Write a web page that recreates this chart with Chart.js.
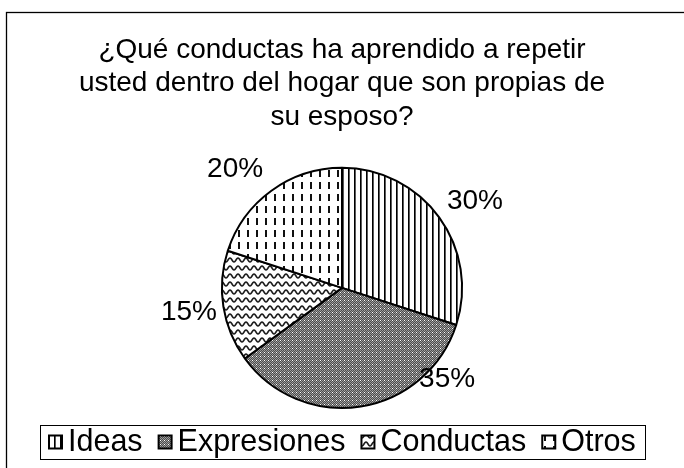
<!DOCTYPE html>
<html>
<head>
<meta charset="utf-8">
<script src="https://cdn.jsdelivr.net/npm/chart.js@4/dist/chart.umd.min.js"></script>
<style>
html,body{margin:0;padding:0;background:#fff;}
canvas{display:block;}
</style>
</head>
<body>
<canvas id="c" width="684" height="468"></canvas>
<script>
const titleLines = ['¿Qué conductas ha aprendido a repetir', 'usted dentro del hogar que son propias de', 'su esposo?'];
const categories = ['Ideas', 'Expresiones', 'Conductas', 'Otros'];
const values = [30, 35, 15, 20];
const valueLabels = ['30%', '35%', '15%', '20%'];

// label placement tweaks (style only)
const labelAngleShift = [3, -40, 0, -6];
const labelRadiusFactor = [1.32, 1.16, 1.29, 1.33];

const FONT = "'Liberation Sans', Arial, sans-serif";

function makePattern(w, h, draw) {
  const cv = document.createElement('canvas');
  cv.width = w; cv.height = h;
  const g = cv.getContext('2d');
  g.fillStyle = '#fff';
  g.fillRect(0, 0, w, h);
  draw(g, w, h);
  return document.createElement('canvas').getContext('2d').createPattern(cv, 'repeat');
}

const patIdeas = makePattern(6, 6, (g) => {
  g.fillStyle = '#000'; g.fillRect(0, 0, 1, 6);
  g.fillStyle = '#5a5a5a'; g.fillRect(1, 0, 1, 6);
});
const patExpr = makePattern(4, 4, (g) => {
  for (let x = 0; x < 4; x++) for (let y = 0; y < 4; y++) {
    g.fillStyle = (x + y) % 2 ? '#4c4c4c' : '#9c9c9c';
    g.fillRect(x, y, 1, 1);
  }
  g.fillStyle = '#fff'; g.fillRect(0, 0, 1, 1);
});
const patCond = makePattern(8, 8, (g) => {
  g.strokeStyle = '#1e1e1e'; g.lineWidth = 1.6;
  g.beginPath();
  for (let x = -1; x <= 9; x += 0.5) {
    const y = 4 + 2 * Math.sin(2 * Math.PI * x / 8);
    if (x === -1) g.moveTo(x, y); else g.lineTo(x, y);
  }
  g.stroke();
});
const patOtros = makePattern(9, 12, (g) => {
  g.fillStyle = '#111'; g.fillRect(4, 2, 2, 7);
});
const patterns = [patIdeas, patExpr, patCond, patOtros];

const framePlugin = {
  id: 'frame',
  beforeDraw(chart) {
    const ctx = chart.ctx;
    ctx.save();
    ctx.strokeStyle = '#000';
    ctx.lineWidth = 1.3;
    ctx.strokeRect(6.5, 12.5, 720, 520);
    ctx.restore();
  }
};

// Legend drawn in a boxed row under the pie (reserved via layout padding)
const boxedLegendPlugin = {
  id: 'boxedLegend',
  afterDraw(chart) {
    const ctx = chart.ctx;
    const ds = chart.data.datasets[0];
    const labels = chart.data.labels;
    const fontSize = 30.5, icon = 13, iconGap = 6, itemGap = 16, margin = 9;
    ctx.save();
    ctx.font = fontSize + 'px ' + FONT;
    const widths = labels.map(t => ctx.measureText(t).width);
    let total = margin * 2 + (labels.length - 1) * itemGap;
    widths.forEach(w => { total += icon + iconGap + w; });
    const cy = chart.chartArea.bottom + 33;
    let x = Math.round((chart.width - total) / 2);
    ctx.strokeStyle = '#000';
    ctx.lineWidth = 1;
    ctx.strokeRect(x + 0.5, Math.round(cy - 17) + 0.5, Math.round(total), 34);
    x += margin;
    ctx.textBaseline = 'middle';
    ctx.textAlign = 'left';
    labels.forEach((t, i) => {
      ctx.fillStyle = ds.backgroundColor[i];
      ctx.fillRect(x, cy - icon / 2, icon, icon);
      ctx.strokeStyle = '#000';
      ctx.lineWidth = 2;
      ctx.strokeRect(x, cy - icon / 2, icon, icon);
      x += icon + iconGap;
      ctx.fillStyle = '#000';
      ctx.fillText(t, x, cy + 1);
      x += widths[i] + itemGap;
    });
    ctx.restore();
  }
};

const pctLabelPlugin = {
  id: 'pctLabels',
  afterDatasetsDraw(chart) {
    const ctx = chart.ctx;
    const meta = chart.getDatasetMeta(0);
    ctx.save();
    ctx.fillStyle = '#000';
    ctx.font = '28px ' + FONT;
    ctx.textAlign = 'center';
    ctx.textBaseline = 'middle';
    meta.data.forEach((arc, i) => {
      const p = arc.getProps(['x', 'y', 'startAngle', 'endAngle', 'outerRadius'], true);
      const mid = (p.startAngle + p.endAngle) / 2 + labelAngleShift[i] * Math.PI / 180;
      const rr = p.outerRadius * labelRadiusFactor[i];
      ctx.fillText(valueLabels[i], p.x + Math.cos(mid) * rr, p.y + Math.sin(mid) * rr);
    });
    ctx.restore();
  }
};

new Chart(document.getElementById('c'), {
  type: 'pie',
  data: {
    labels: categories,
    datasets: [{
      data: values,
      backgroundColor: patterns,
      borderColor: '#000',
      borderWidth: 2
    }]
  },
  options: {
    responsive: false,
    animation: false,
    devicePixelRatio: 1,
    layout: { padding: { top: 0, bottom: 59, left: 0, right: 0 } },
    plugins: {
      title: {
        display: true,
        text: titleLines,
        color: '#000',
        font: { family: FONT, size: 28, weight: 'normal', lineHeight: 1.2 },
        padding: { top: 33, bottom: 33 }
      },
      legend: { display: false },
      tooltip: { enabled: false }
    }
  },
  plugins: [framePlugin, boxedLegendPlugin, pctLabelPlugin]
});
</script>
</body>
</html>
